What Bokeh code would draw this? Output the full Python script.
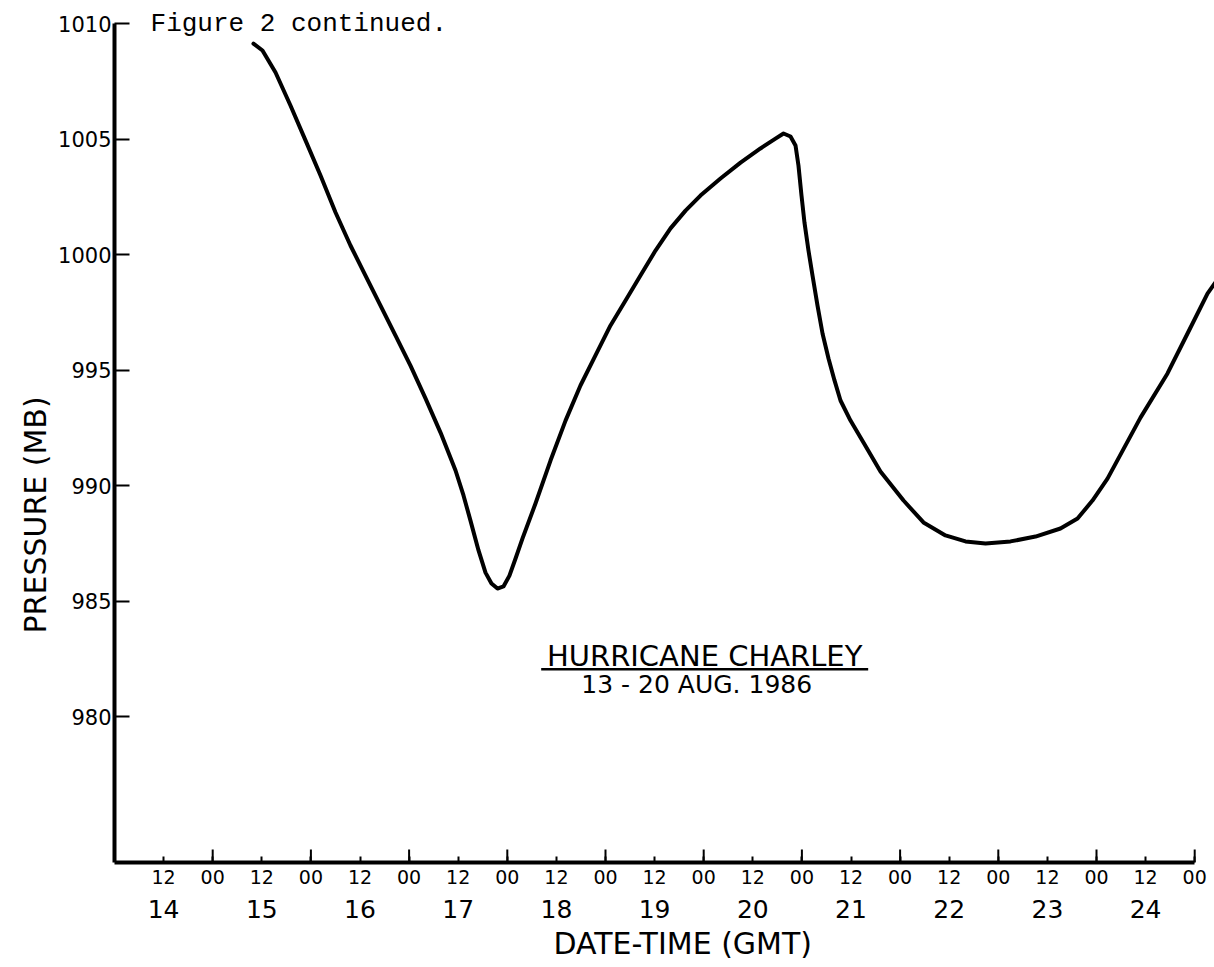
from bokeh.plotting import figure
from bokeh.models import FixedTicker, LinearAxis, Label, Range1d, Title
from bokeh.embed import file_html
from bokeh.resources import INLINE

# ---------------- data ----------------
time_days = [15.415, 15.507, 15.640, 15.792, 15.945, 16.098, 16.251, 16.403, 16.556,
             16.709, 16.862, 17.014, 17.167, 17.320, 17.473, 17.554, 17.625, 17.707,
             17.778, 17.839, 17.900, 17.961, 18.022, 18.084, 18.155, 18.287, 18.440,
             18.593, 18.745, 18.898, 19.051, 19.204, 19.356, 19.509, 19.662, 19.815,
             19.967, 20.171, 20.375, 20.578, 20.731, 20.813, 20.884, 20.935, 20.965,
             20.996, 21.026, 21.067, 21.108, 21.159, 21.210, 21.271, 21.332, 21.393,
             21.495, 21.627, 21.800, 22.035, 22.238, 22.462, 22.666, 22.870, 23.124,
             23.379, 23.633, 23.807, 23.959, 24.112, 24.448, 24.723, 24.927, 25.130,
             25.202, 25.283]
pressure_mb = [1009.13, 1008.83, 1007.88, 1006.45, 1004.94, 1003.42, 1001.82, 1000.39, 999.09,
               997.79, 996.49, 995.19, 993.77, 992.29, 990.65, 989.57, 988.48, 987.19,
               986.23, 985.76, 985.54, 985.63, 986.10, 986.84, 987.71, 989.22, 991.08,
               992.81, 994.33, 995.63, 996.93, 998.01, 999.09, 1000.17, 1001.13, 1001.90,
               1002.55, 1003.29, 1003.98, 1004.59, 1005.02, 1005.24, 1005.11, 1004.72, 1003.85,
               1002.55, 1001.39, 1000.17, 999.09, 997.79, 996.58, 995.50, 994.55, 993.68,
               992.81, 991.86, 990.61, 989.35, 988.40, 987.84, 987.58, 987.49, 987.58,
               987.79, 988.14, 988.57, 989.35, 990.30, 992.94, 994.85, 996.58, 998.31,
               998.74, 999.22]

y_ticks = [980, 985, 990, 995, 1000, 1005, 1010]
hour_ticks = [14.5, 15.0, 15.5, 16.0, 16.5, 17.0, 17.5, 18.0, 18.5, 19.0, 19.5, 20.0,
              20.5, 21.0, 21.5, 22.0, 22.5, 23.0, 23.5, 24.0, 24.5, 25.0]
hour_labels = ["12", "00"] * 11
date_ticks = [14.5, 15.5, 16.5, 17.5, 18.5, 19.5, 20.5, 21.5, 22.5, 23.5, 24.5]
date_labels = ["14", "15", "16", "17", "18", "19", "20", "21", "22", "23", "24"]

# ---------------- layout ----------------
X_START, X_END = 14.0, 25.2016
Y_START, Y_END = 973.68, 1010.996
FONT = "DejaVu Sans"

p = figure(width=1214, height=967, output_backend="svg", toolbar_location=None,
           x_range=Range1d(X_START, X_END), y_range=Range1d(Y_START, Y_END),
           x_axis_location=None, y_axis_location=None,
           min_border_left=114, min_border_right=0, min_border_top=0, min_border_bottom=105)
p.outline_line_color = None
p.xgrid.visible = False
p.ygrid.visible = False
p.background_fill_color = "white"
p.border_fill_color = "white"

# y axis
yax = LinearAxis(ticker=FixedTicker(ticks=y_ticks), bounds=(Y_START, 1010))
yax.axis_line_width = 4
yax.axis_line_color = "black"
yax.major_tick_in = 15
yax.major_tick_out = 0
yax.major_tick_line_width = 2
yax.minor_tick_line_color = None
yax.major_label_standoff = 3
yax.major_label_text_font = FONT
yax.major_label_text_font_size = "21px"
yax.major_label_text_color = "black"
p.add_layout(yax, "left")

p.add_layout(Title(text="PRESSURE (MB)", align="left", offset=229,
                   text_font=FONT, text_font_size="30px", text_font_style="normal",
                   text_color="black", standoff=6), "left")

# x axis: hours row
hour_overrides = {t: l for t, l in zip(hour_ticks, hour_labels)}
xax = LinearAxis(ticker=FixedTicker(ticks=hour_ticks), bounds=(X_START, 25.0),
                 major_label_overrides=hour_overrides)
xax.axis_line_width = 4
xax.axis_line_color = "black"
xax.major_tick_in = 6
xax.major_tick_out = 0
xax.major_tick_line_width = 2
xax.minor_tick_line_color = None
xax.major_label_standoff = 7
xax.major_label_text_font = FONT
xax.major_label_text_font_size = "19px"
xax.major_label_text_color = "black"
p.add_layout(xax, "below")

# x axis: dates row
date_overrides = {t: l for t, l in zip(date_ticks, date_labels)}
dax = LinearAxis(ticker=FixedTicker(ticks=date_ticks), major_label_overrides=date_overrides)
dax.axis_line_color = None
dax.major_tick_line_color = None
dax.minor_tick_line_color = None
dax.major_label_standoff = 7
dax.major_label_text_font = FONT
dax.major_label_text_font_size = "25px"
dax.major_label_text_color = "black"
p.add_layout(dax, "below")

p.add_layout(Title(text="DATE-TIME (GMT)", align="left", offset=439,
                   text_font=FONT, text_font_size="30px", text_font_style="normal",
                   text_color="black", standoff=6), "below")

# longer ticks at 00 hours (derived from the tick list)
zero_ticks = [t for t, l in zip(hour_ticks, hour_labels) if l == "00"]
tick_len = 13 / 23.1
p.segment(x0=zero_ticks, x1=zero_ticks, y0=[Y_START] * len(zero_ticks),
          y1=[Y_START + tick_len] * len(zero_ticks), line_color="black", line_width=2)

# the pressure trace
p.line(time_days, pressure_mb, line_color="black", line_width=4,
       line_join="round", line_cap="round")

# texts
p.add_layout(Label(x=14.367, y=1010.0, text="Figure 2 continued.",
                   text_align="left", text_baseline="alphabetic",
                   text_font="Liberation Mono", text_font_size="26px", text_color="black"))

TITLE_X = 20.01
TITLE_HALF = 1.665
p.add_layout(Label(x=TITLE_X, y=982.64, text="HURRICANE CHARLEY",
                   text_align="center", text_baseline="middle",
                   text_font=FONT, text_font_size="29px", text_color="black"))
p.segment(x0=[TITLE_X - TITLE_HALF], x1=[TITLE_X + TITLE_HALF], y0=[982.05], y1=[982.05],
          line_color="black", line_width=2.5)
p.add_layout(Label(x=TITLE_X, y=981.38, text="13 - 20  AUG.  1986",
                   text_align="center", text_baseline="middle",
                   text_font=FONT, text_font_size="25px", text_color="black"))

open("out.html", "w").write(file_html(p, INLINE))
